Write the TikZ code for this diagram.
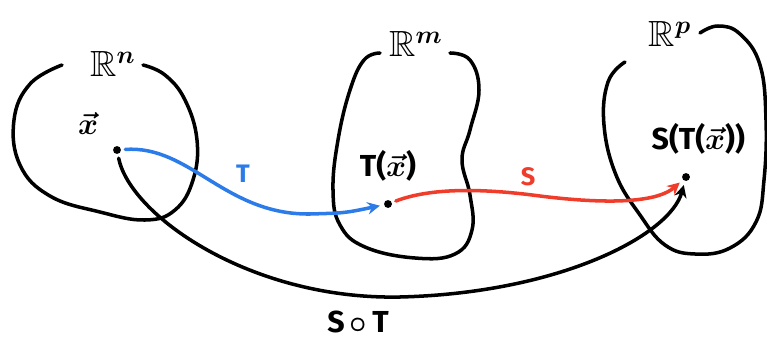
\documentclass[tikz,border=0pt]{standalone}
\usepackage{fontspec}
\setmainfont{Fira Sans}
\usepackage{amsmath,amssymb}
\definecolor{mapBlue}{HTML}{2B7BE8}
\definecolor{mapRed}{HTML}{F03C2A}
\usetikzlibrary{arrows.meta, positioning}

\begin{document}
\begin{tikzpicture}[x=0.02cm, y=-0.02cm,
  line cap=round, line join=round,
  blob/.style={line width=2pt, black},
  dot/.style={circle, fill=black, inner sep=0pt, minimum size=4.5pt, outer sep=2.5pt},
  lbl/.style={font=\Large\bfseries, inner sep=1pt},
  space/.style={font=\huge\boldmath, inner sep=1pt},
  maparrow/.style={line width=2pt, -{Stealth[length=7pt, width=7pt]}}]
  \useasboundingbox (0,0) rectangle (767,338);

  % the three spaces
  \draw[blob] plot[smooth, tension=0.7] coordinates {(62,65) (30,84) (14,120)
    (20,165) (50,196) (100,212) (145,220) (175,210) (193,180) (197,140)
    (185,100) (165,75) (143,65)};
  \draw[blob] plot[smooth, tension=0.7] coordinates {(380,53) (364,60) (350,90) (338,140)
    (333,190) (340,225) (365,247) (415,258) (455,254) (472,230) (470,195)
    (462,160) (470,130) (479,90) (470,60) (450,53)};
  \draw[blob] plot[smooth, tension=0.7] coordinates {(625,62) (608,82) (604,125) (616,175)
    (640,215) (665,245) (695,254) (730,248) (756,222) (764,180) (766,120) (760,65)
    (740,34) (718,26) (700,33)};

  \node[space] (Rn) at (113,64) {$\mathbb{R}^n$};
  \node[space] (Rm) at (416,44) {$\mathbb{R}^m$};
  \node[space] (Rp) at (670,34) {$\mathbb{R}^p$};

  % points
  \node[dot] (x) at (117,150) {};
  \node[dot] (Tx) at (388,204) {};
  \node[dot] (STx) at (686,177) {};

  \node[lbl, font=\LARGE\boldmath] (xlbl) at (88,124) {$\vec{x}$};
  \node[lbl, font=\LARGE\bfseries, above=2.5mm of Tx] (Txlbl) {T($\boldsymbol{\vec{x}}$)};
  \node[lbl, font=\LARGE\bfseries, above=2.5mm of STx, xshift=7pt] (STxlbl) {S(T($\boldsymbol{\vec{x}}$))};

  % maps
  \draw[maparrow, mapBlue] (x) .. controls (190,145) and (225,215) .. (310,214)
    .. controls (345,213) .. (Tx);
  \draw[maparrow, mapRed] (Tx) .. controls (430,188) and (480,188) .. (540,196)
    .. controls (620,206) and (660,200) .. (STx);
  \draw[maparrow, black] (x) .. controls (130,215) and (250,300) .. (400,297)
    .. controls (560,293) and (670,235) .. (STx);

  \node[lbl, mapBlue] (T) at (243,174) {T};
  \node[lbl, mapRed] (S) at (528,177) {S};
  \node[lbl, font=\LARGE\bfseries] (ST) at (358,322) {S$\,\boldsymbol{\circ}\,$T};
\end{tikzpicture}
\end{document}
